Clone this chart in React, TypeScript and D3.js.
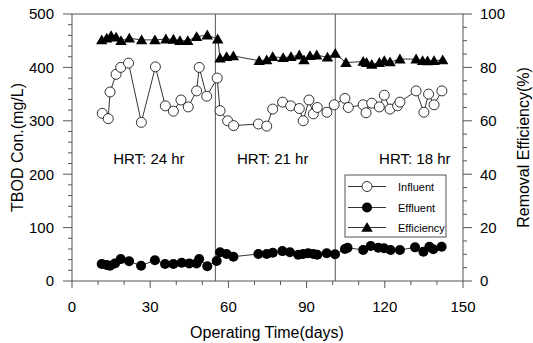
import React from 'react';
import * as d3 from 'd3';

const influentDays = [11.6, 13.9, 14.6, 16.9, 18.7, 21.7, 26.6, 32, 35.8, 38.9, 41.8, 44.6, 47.8, 48.8, 51.7, 55.7, 56.8, 59.7, 62, 71.5, 74.7, 77, 80.8, 83.9, 87.2, 88.7, 90.9, 92.6, 94.1, 97.8, 100.6, 104.7, 106, 111.7, 112.8, 115, 117.9, 119.8, 122, 124.9, 125.8, 132, 135, 136.8, 138.9, 141.9];
const influentValues = [314, 304, 354, 387, 400, 408, 297, 401, 328, 318, 339, 326, 356, 400, 346, 380, 319, 300, 291, 294, 290, 322, 335, 328, 323, 300, 339, 313, 325, 316, 330, 342, 325, 330, 315, 333, 326, 348, 322, 328, 335, 356, 316, 350, 330, 356];

const effluentDays = [11.4, 13.3, 14.6, 16.5, 18.7, 21.9, 26.5, 31.8, 35.7, 38.9, 42.1, 45, 47.8, 48.8, 51.9, 55.5, 56.8, 59.3, 61.9, 71.5, 74.7, 77, 80.7, 83.6, 86.8, 88.7, 90.6, 92.6, 94.1, 97.7, 100.9, 104.7, 105.7, 111.7, 114.6, 117.5, 119.7, 122.2, 125.8, 131.6, 134.8, 137.1, 138.6, 141.8];
const effluentValues = [31.8, 30, 28.7, 33, 41, 37, 28.7, 39, 31.8, 31.8, 34.3, 33, 33, 41, 27.5, 37.5, 53.7, 50.6, 45.5, 50.6, 50.6, 53, 56, 53.7, 49.3, 50.6, 51.9, 50.6, 49.3, 51.9, 50, 60, 62.4, 58, 65.5, 62.4, 61.2, 58, 58, 63, 55, 64, 59.4, 64.2];

const efficiencyDays = [11.4, 13.3, 15, 16.9, 18.8, 22, 26.7, 31.8, 36, 38.9, 41.4, 44.4, 47.8, 51.9, 55.9, 56.8, 59.3, 61.9, 71.8, 74.7, 77, 81, 84, 87.2, 89, 91.3, 93.9, 98, 101, 105.1, 111.7, 113, 115, 117.9, 119.8, 122, 125.8, 132, 134.5, 136.4, 138.9, 142.2];
const efficiencyValues = [90.3, 90.9, 91.9, 91.3, 90, 90.9, 90.3, 90.3, 90.6, 90.5, 90, 90, 91.5, 92.1, 90.6, 83.4, 84, 84.3, 82.5, 82.8, 84, 83.6, 84, 84.6, 82.8, 84.4, 84.6, 83.8, 85.2, 81.8, 82.2, 81.8, 81.1, 81.8, 82.5, 82, 83.1, 83.1, 82.5, 82.4, 82.5, 82.8];

const xTicks = [0, 30, 60, 90, 120, 150];
const leftTicks = [0, 100, 200, 300, 400, 500];
const rightTicks = [0, 20, 40, 60, 80, 100];
const hrtDividers = [55, 101];
const hrtLabels = ['HRT: 24 hr', 'HRT: 21 hr', 'HRT: 18 hr'];
const hrtLabelDays = [29.5, 77, 131.5];
const legendLabels = ['Influent', 'Effluent', 'Efficiency'];

const FONT = '"Liberation Sans", Arial, sans-serif';
const AX = '#555';

export default function App() {
  const left = 72, right = 463, top = 14, bottom = 281;
  const x = d3.scaleLinear().domain([0, 150]).range([left, right]);
  const yL = d3.scaleLinear().domain([0, 500]).range([bottom, top]);
  const yR = d3.scaleLinear().domain([0, 100]).range([bottom, top]);

  const lineGen = d3.line<[number, number]>().x(d => d[0]).y(d => d[1]);
  const infPts: [number, number][] = influentDays.map((d, i) => [x(d), yL(influentValues[i])]);
  const effPts: [number, number][] = effluentDays.map((d, i) => [x(d), yL(effluentValues[i])]);
  const efcPts: [number, number][] = efficiencyDays.map((d, i) => [x(d), yR(efficiencyValues[i])]);

  const tri = (cx: number, cy: number) => `M${cx},${cy - 5.5}L${cx + 5.7},${cy + 4.3}L${cx - 5.7},${cy + 4.3}Z`;

  const xMinor = d3.range(0, 151, 10);
  const lMinor = d3.range(0, 501, 20);
  const rMinor = d3.range(0, 101, 5);

  const legY = [186.5, 207.5, 227.5];

  return (
    <svg width={533} height={343} style={{ position: 'absolute', left: 0, top: 0, background: '#fff' }} fontFamily={FONT}>
      <rect x={0} y={0} width={533} height={343} fill="#fff" />
      <rect x={left} y={top} width={right - left} height={bottom - top} fill="none" stroke={AX} strokeWidth={1} />
      {xMinor.map(t => (
        <line key={'xm' + t} x1={x(t)} x2={x(t)} y1={bottom} y2={bottom + (t % 30 === 0 ? 7 : 4)} stroke={AX} />
      ))}
      {xTicks.map(t => (
        <text key={'xt' + t} x={x(t)} y={312} fontSize={15} textAnchor="middle">{t}</text>
      ))}
      {lMinor.map(t => (
        <line key={'lm' + t} x1={left - (t % 100 === 0 ? 9 : 4)} x2={left} y1={yL(t)} y2={yL(t)} stroke={AX} />
      ))}
      {leftTicks.map(t => (
        <text key={'lt' + t} x={54} y={yL(t) + 5.3} fontSize={15} textAnchor="end">{t}</text>
      ))}
      {rMinor.map(t => (
        <line key={'rm' + t} x1={right} x2={right + (t % 20 === 0 ? 9 : 4)} y1={yR(t)} y2={yR(t)} stroke={AX} />
      ))}
      {rightTicks.map(t => (
        <text key={'rt' + t} x={480} y={yR(t) + 5.3} fontSize={15} textAnchor="start">{t}</text>
      ))}
      {hrtDividers.map(d => (
        <line key={'dv' + d} x1={x(d)} x2={x(d)} y1={top} y2={bottom} stroke={AX} />
      ))}
      {hrtLabels.map((s, i) => (
        <text key={s} x={x(hrtLabelDays[i])} y={163.5} fontSize={15} textAnchor="middle">{s}</text>
      ))}
      <path d={lineGen(infPts) || ''} fill="none" stroke="#000" strokeWidth={0.8} />
      <path d={lineGen(effPts) || ''} fill="none" stroke="#000" strokeWidth={0.8} />
      <path d={lineGen(efcPts) || ''} fill="none" stroke="#000" strokeWidth={0.8} />
      {efcPts.map((p, i) => <path key={'tr' + i} d={tri(p[0], p[1])} fill="#000" />)}
      {infPts.map((p, i) => <circle key={'ic' + i} cx={p[0]} cy={p[1]} r={5} fill="#fff" stroke="#000" strokeWidth={0.8} />)}
      {effPts.map((p, i) => <circle key={'ec' + i} cx={p[0]} cy={p[1]} r={5} fill="#000" />)}
      <rect x={345} y={175} width={101} height={62} fill="#fff" stroke={AX} />
      {legendLabels.map((s, i) => (
        <g key={'lg' + s}>
          <line x1={348} x2={386} y1={legY[i]} y2={legY[i]} stroke="#000" strokeWidth={0.8} />
          {i === 0 && <circle cx={367} cy={legY[i]} r={5} fill="#fff" stroke="#000" strokeWidth={0.8} />}
          {i === 1 && <circle cx={367} cy={legY[i]} r={5} fill="#000" />}
          {i === 2 && <path d={tri(367, legY[i])} fill="#000" />}
          <text x={398} y={legY[i] + 4} fontSize={11}>{s}</text>
        </g>
      ))}
      <text x={267} y={338} fontSize={16} textAnchor="middle">Operating Time(days)</text>
      <text transform={`translate(22.5,${(top + bottom) / 2}) rotate(-90)`} fontSize={16} textAnchor="middle">TBOD Con.(mg/L)</text>
      <text transform={`translate(529,${(top + bottom) / 2}) rotate(-90)`} fontSize={16} textAnchor="middle">Removal Efficiency(%)</text>
    </svg>
  );
}
